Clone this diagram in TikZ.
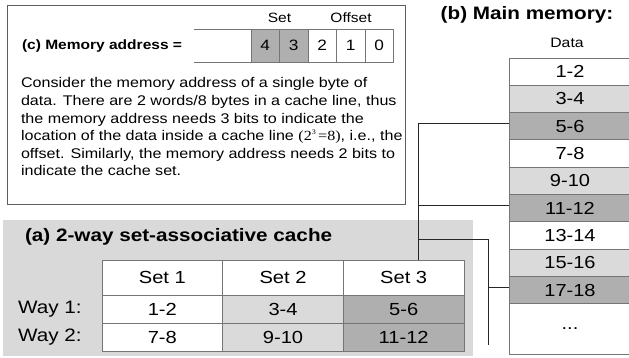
\documentclass[tikz,border=0pt]{standalone}
\usepackage{fontspec}
\setmainfont{Liberation Sans}[FakeStretch=1.15]
\newfontfamily\formulafont{Liberation Serif}[FakeStretch=1.15]
\usetikzlibrary{calc}
\definecolor{lightcell}{HTML}{DADADA}
\definecolor{darkcell}{HTML}{AFAFAF}
\definecolor{panelgray}{HTML}{D9D9D9}
\definecolor{framegray}{HTML}{5E5E5E}
\definecolor{gridgray}{HTML}{757575}
\definecolor{wire}{HTML}{262626}
\begin{document}
\begin{tikzpicture}[x=1pt,y=-1pt,
  every node/.style={inner sep=0pt, outer sep=0pt},
  memcell/.style={draw=gridgray, line width=0.9pt, anchor=north west,
    minimum width=122pt, minimum height=27.3pt, font=\fontsize{17.4}{17.4}\selectfont},
  tabcell/.style={draw=gridgray, line width=0.8pt, anchor=north west,
    minimum width=120.7pt, minimum height=28pt, font=\fontsize{17.5}{17.5}\selectfont},
  bitcell/.style={draw=gridgray, line width=0.8pt, anchor=north west,
    minimum width=28.5pt, minimum height=33pt, font=\fontsize{15}{15}\selectfont},
  title/.style={font=\bfseries\fontsize{18}{18}\selectfont},
  label/.style={font=\fontsize{13.5}{13.5}\selectfont},
  wireline/.style={draw=wire, line width=0.8pt},
]
\useasboundingbox (0,0) rectangle (629,358);

% ---------- (c) memory address panel ----------
\node[draw=framegray, line width=0.9pt, anchor=north west,
  minimum width=398pt, minimum height=199pt] (cbox) at (7,5) {};
\node[anchor=west, font=\bfseries\fontsize{13.5}{13.5}\selectfont] (clabel) at (22,46) {(c) Memory address =};

\node[anchor=north west, minimum width=57pt, minimum height=33pt] (blank) at (194,29) {};
\draw[gridgray, line width=0.8pt] (blank.north west) -- (blank.north east)
  (blank.south west) -- (blank.south east);
\node[bitcell, fill=darkcell] (b4) at (251,29) {4};
\node[bitcell, fill=darkcell] (b3) at (279.5,29) {3};
\node[bitcell] (b2) at (308,29) {2};
\node[bitcell] (b1) at (336.5,29) {1};
\node[bitcell] (b0) at (365,29) {0};
\node[label] (setlab) at (279.5,18) {Set};
\node[label] (offlab) at (351,18) {Offset};

\node[anchor=base west, font=\fontsize{14}{17.6}\selectfont] (para) at (21,88)
{\parbox[t]{400pt}{\raggedright
Consider the memory address of a single byte of\\
data. There are 2 words/8 bytes in a cache line, thus\\
the memory address needs 3 bits to indicate the\\
location of the data inside a cache line {\formulafont(2\raisebox{0.45em}{\fontsize{7}{7}\selectfont 3}\,=8)}, i.e., the\\
offset. Similarly, the memory address needs 2 bits to\\
indicate the cache set.}};

% ---------- (a) cache panel ----------
\node[fill=panelgray, anchor=north west, minimum width=470pt, minimum height=136pt] (panel) at (3,220) {};
\node[title, anchor=west] (atitle) at (25,237) {(a) 2-way set-associative cache};

\node[tabcell, fill=white, minimum height=35pt] (h1) at (102,260) {Set 1};
\node[tabcell, fill=white, minimum height=35pt] (h2) at (222.7,260) {Set 2};
\node[tabcell, fill=white, minimum height=35pt] (h3) at (343.3,260) {Set 3};
\node[tabcell, fill=white] (a11) at (102,295) {1-2};
\node[tabcell, fill=lightcell] (a12) at (222.7,295) {3-4};
\node[tabcell, fill=darkcell] (a13) at (343.3,295) {5-6};
\node[tabcell, fill=white] (a21) at (102,323) {7-8};
\node[tabcell, fill=lightcell] (a22) at (222.7,323) {9-10};
\node[tabcell, fill=darkcell] (a23) at (343.3,323) {11-12};
\node[anchor=west, font=\fontsize{18}{18}\selectfont] (w1) at (18,309) {Way 1:};
\node[anchor=west, font=\fontsize{18}{18}\selectfont] (w2) at (18,337) {Way 2:};

% ---------- (b) main memory ----------
\node[title] (btitle) at (527,15) {(b) Main memory:};
\node[font=\fontsize{13.7}{13.7}\selectfont] (datalab) at (567,43) {Data};
\foreach \lab/\col [count=\i] in {1-2/white,3-4/lightcell,5-6/darkcell,7-8/white,
    9-10/lightcell,11-12/darkcell,13-14/white,15-16/lightcell,17-18/darkcell}
  \node[memcell, fill=\col] (m\i) at (509,{58+27.3*(\i-1)}) {\lab};
\node[memcell, fill=white, minimum height=50.3pt] (m10) at (509,303.7) {...};

% ---------- connectors ----------
\coordinate (bus) at (418,260);
\coordinate (tapA) at (418,239);
\coordinate (tapB) at (488,345);
\draw[wireline] ([yshift=3pt]m3.west) -| (bus);
\draw[wireline] ([yshift=3pt]m6.west) -- ([yshift=3pt]m6.west -| bus);
\draw[wireline] (tapA) -| (tapB);
\draw[wireline] ([yshift=3pt]m9.west) -- ([yshift=3pt]m9.west -| tapB);
\end{tikzpicture}
\end{document}
